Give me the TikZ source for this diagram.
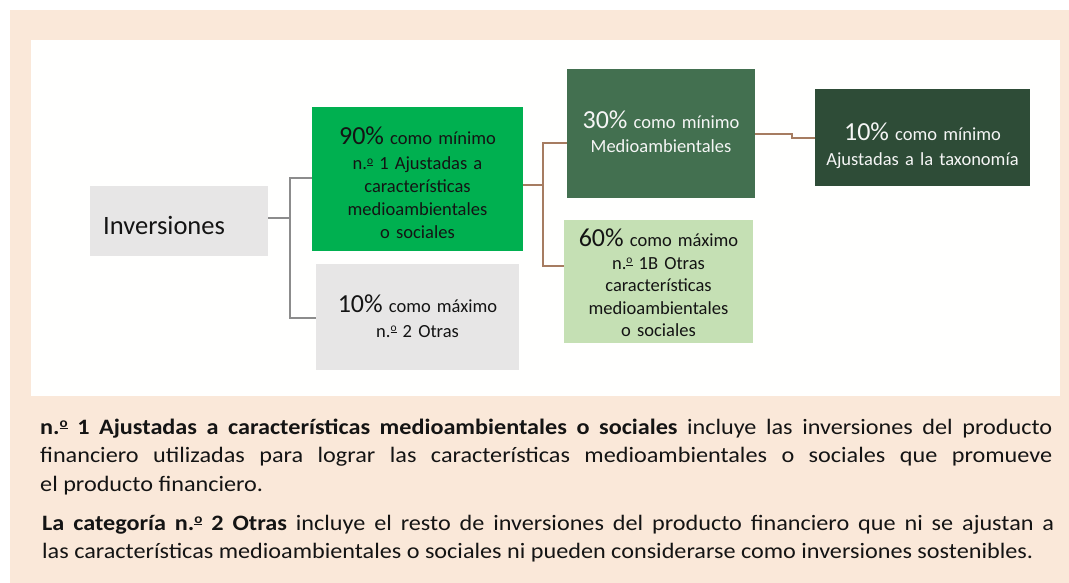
\documentclass[tikz,border=0pt]{standalone}
\usepackage{fontspec}
\setmainfont{Carlito}
\newfontfamily\bodyfont{Carlito}[FakeStretch=1.1]
\definecolor{beige}{RGB}{250,232,217}
\definecolor{panelwhite}{RGB}{255,255,254}
\definecolor{boxgray}{RGB}{231,230,230}
\definecolor{greenA}{RGB}{0,176,80}
\definecolor{greenB}{RGB}{67,112,80}
\definecolor{greenC}{RGB}{46,76,55}
\definecolor{greenD}{RGB}{197,224,180}
\definecolor{linegray}{RGB}{140,140,140}
\definecolor{linebrown}{RGB}{166,124,97}
\definecolor{textdark}{RGB}{20,20,20}
\definecolor{textlight}{RGB}{245,245,245}
\newcommand{\pctxt}[1]{{\fontsize{26}{23}\selectfont #1}}
\newcommand{\ordm}{\raisebox{0.30em}{\scalebox{0.62}{\underline{o}}}}
\begin{document}
\begin{tikzpicture}[x=1pt,y=-1pt,
  box/.style={rectangle, draw=none, inner sep=0pt},
  boxtext/.style={anchor=base, inner sep=0pt, align=center, text=textdark,
    font=\fontsize{18.5}{23}\selectfont},
  gline/.style={draw=linegray, line width=1.8pt},
  bline/.style={draw=linebrown, line width=1.8pt},
  para/.style={anchor=base west, inner sep=0pt, text width=1012pt, align=justify,
    text=textdark, font=\bodyfont\fontsize{22}{28.5}\selectfont}]
\useasboundingbox (0,0) rectangle (1069,583);
\fill[white] (0,0) rectangle (1069,583);
\fill[beige] (10,10) rectangle (1069,583);
\fill[panelwhite] (31,40) rectangle (1060,396);

% boxes
\node[box, fill=boxgray, minimum width=178, minimum height=70] (inv) at (179,221) {};
\node[box, fill=greenA, minimum width=211, minimum height=144] (b90) at (417.5,179) {};
\node[box, fill=boxgray, minimum width=203, minimum height=106] (b10) at (417.5,317) {};
\node[box, fill=greenB, minimum width=188, minimum height=129] (b30) at (661,133.5) {};
\node[box, fill=greenC, minimum width=215, minimum height=97] (btax) at (922.5,137.5) {};
\node[box, fill=greenD, minimum width=189, minimum height=123] (b60) at (658.5,281.5) {};

% texts
\node[anchor=base west, inner sep=0pt, text=textdark, font=\fontsize{26.5}{30}\selectfont] (tinv) at (103,234) {Inversiones};
\node[boxtext, text width=211pt] (t90) at (417.5,145) {\pctxt{90\%} como mínimo\\[2pt] n.\ordm\ 1 Ajustadas a\\ características\\ medioambientales\\ o sociales};
\node[boxtext, text width=203pt] (t10) at (417.5,312) {\pctxt{10\%} como máximo\\[2pt] n.\ordm\ 2 Otras};
\node[boxtext, text width=188pt, text=textlight] (t30) at (661,129) {\pctxt{30\%} como mínimo\\[1pt] Medioambientales};
\node[boxtext, text width=215pt, text=textlight] (ttax) at (922.5,141) {\pctxt{10\%} como mínimo\\[2pt] Ajustadas a la taxonomía};
\node[boxtext, text width=189pt, font=\fontsize{18.5}{22.5}\selectfont] (t60) at (658.5,247) {\pctxt{60\%} como máximo\\ n.\ordm\ 1B Otras\\ características\\ medioambientales\\ o sociales};

% connectors
\coordinate (j1a) at (290,178);
\coordinate (j1b) at (290,318);
\coordinate (j1) at (290,218);
\draw[gline] (inv.east |- j1) -- (j1);
\draw[gline] (j1a -| b90.west) -- (j1a) -- (j1b) -- (j1b -| b10.west);

\coordinate (j2) at (543,185);
\coordinate (j2a) at (543,143);
\coordinate (j2b) at (543,266);
\draw[bline] (j2 -| b90.east) -- (j2);
\draw[bline] (j2a -| b30.west) -- (j2a) -- (j2b) -- (j2b -| b60.west);

\coordinate (j3a) at (792,134);
\coordinate (j3b) at (792,138);
\draw[bline] (j3a -| b30.east) -- (j3a) -- (j3b) -- (j3b -| btax.west);

% explanatory paragraphs
\node[para] (p1) at (40,434) {\tolerance=9999\hbadness=10000\textbf{n.\ordm\ 1 Ajustadas a características medioambientales o sociales} incluye las inversiones del producto\linebreak financiero utilizadas para lograr las características medioambientales o sociales que promueve\linebreak el producto financiero.};
\node[para] (p2) at (42,530) {\tolerance=9999\hbadness=10000\textbf{La categoría n.\ordm\ 2 Otras} incluye el resto de inversiones del producto financiero que ni se ajustan a\linebreak las características medioambientales o sociales ni pueden considerarse como inversiones sostenibles.};
\end{tikzpicture}
\end{document}
